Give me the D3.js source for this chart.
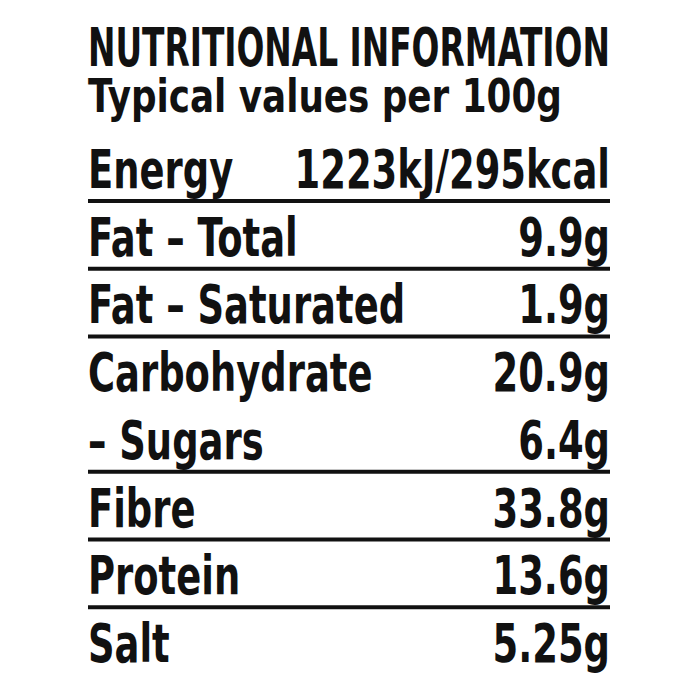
<!DOCTYPE html>
<html>
<head>
<meta charset="utf-8">
<script src="https://cdn.jsdelivr.net/npm/d3@7/dist/d3.min.js"></script>
<style>
  body { margin: 0; background: #fff; }
  text { font-family: "DejaVu Sans Condensed", "Liberation Sans Narrow", sans-serif; font-weight: bold; fill: #111; }
</style>
</head>
<body>
<svg id="label" width="700" height="700"></svg>
<script>
// label content
var title = "NUTRITIONAL INFORMATION";
var subtitle = "Typical values per 100g";
var nutrients = ["Energy", "Fat \u2013 Total", "Fat \u2013 Saturated", "Carbohydrate", "\u2013 Sugars", "Fibre", "Protein", "Salt"];
var amounts = ["1223kJ/295kcal", "9.9g", "1.9g", "20.9g", "6.4g", "33.8g", "13.6g", "5.25g"];
var ruleAfter = [true, true, true, false, true, true, true, false];

var left = 88, right = 610;
var squeeze = 0.76;
var svg = d3.select("#label");

var y = d3.scaleLinear().domain([0, nutrients.length - 1]).range([188, 662]);

// text squeezed horizontally to mimic a condensed face
function squeezed(x, yy, size, anchor, str, fitWidth) {
  var g = svg.append("g");
  var t = g.append("text").attr("font-size", size).attr("text-anchor", anchor).text(str);
  var k = squeeze;
  if (fitWidth) k = fitWidth / t.node().getComputedTextLength();
  g.attr("transform", "translate(" + x + "," + yy + ") scale(" + k + ",1)");
  return g;
}

squeezed(left, 66, 54, "start", title, right - left);
squeezed(left, 112, 46, "start", subtitle, 474);

nutrients.forEach(function(d, i) {
  squeezed(left, y(i), 54, "start", d);
  squeezed(right, y(i), 54, "end", amounts[i]);
});

svg.selectAll("line.rule")
  .data(nutrients.map(function(d, i) { return i; }).filter(function(i) { return ruleAfter[i]; }))
  .enter().append("line").attr("class", "rule")
  .attr("x1", left).attr("x2", right)
  .attr("y1", function(i) { return y(i) + 13; })
  .attr("y2", function(i) { return y(i) + 13; })
  .attr("stroke", "#111").attr("stroke-width", 4);
</script>
</body>
</html>
